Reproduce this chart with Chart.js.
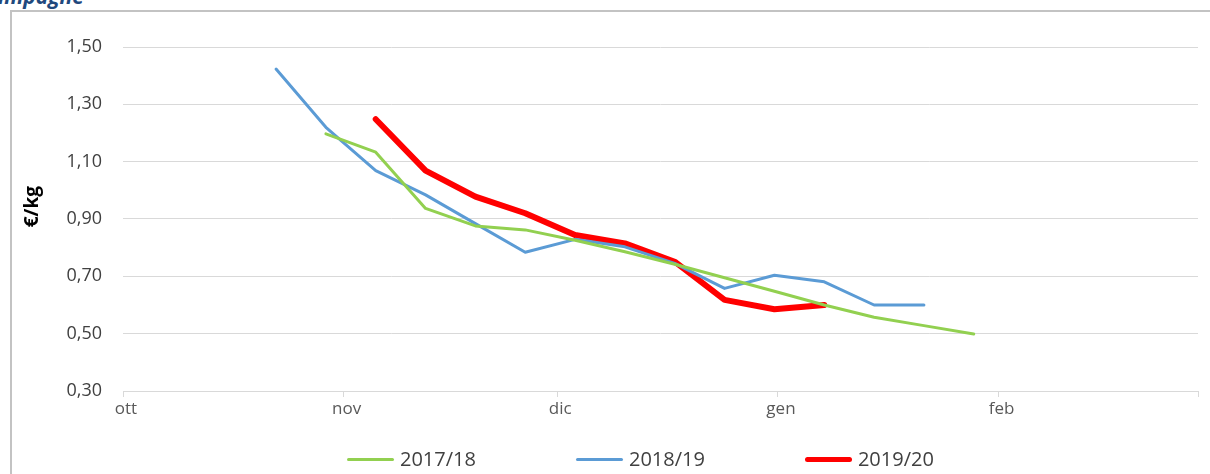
<!DOCTYPE html>
<html>
<head>
<meta charset="utf-8">
<script src="https://cdn.jsdelivr.net/npm/chart.js@4/dist/chart.umd.min.js"></script>
<style>
  html, body { margin: 0; padding: 0; background: #fff; overflow: hidden; }
  #wrap { position: relative; width: 1210px; height: 474px; }
  #heading {
    position: absolute; right: 1126px; top: -14px; white-space: nowrap;
    font: italic bold 21px 'Open Sans', sans-serif; line-height: 20px; color: #1f497d;
  }
  #frame {
    position: absolute; left: 10px; top: 10px; width: 1300px; height: 500px;
    border-top: 2px solid #c3c3c3; border-left: 2px solid #c3c3c3;
  }
  #chart { position: absolute; left: 0; top: 0; }
  #legend {
    position: absolute; left: 347px; top: 447px; display: flex; gap: 100px;
    font: 20px 'Open Sans', sans-serif; color: #404040; line-height: 24px;
  }
  #legend .item { display: flex; align-items: center; }
  #legend .swatch { width: 47px; margin-right: 6px; border-radius: 3px; }
</style>
</head>
<body>
<div id="wrap">
  <div id="heading">campagne</div>
  <div id="frame"></div>
  <canvas id="chart" width="1210" height="474"></canvas>
  <div id="legend"></div>
</div>
<script>
// days counted from 1 October; last entry is 1 March (end of the axis)
const monthLabels = ['ott', 'nov', 'dic', 'gen', 'feb'];
const monthStarts = [0, 31, 61, 92, 123, 151];
const yTicks = [0.3, 0.5, 0.7, 0.9, 1.1, 1.3, 1.5];

const seasons = ['2017/18', '2018/19', '2019/20'];
const seasonColors = ['#92d050', '#5b9bd5', '#ff0000'];

const days1718 = [28.5, 35.5, 42.5, 49.5, 56.5, 63.5, 70.5, 77.5, 84.5, 91.5, 98.5, 105.5, 112.5, 119.5];
const prices1718 = [1.197, 1.133, 0.937, 0.876, 0.862, 0.826, 0.786, 0.742, 0.695, 0.648, 0.600, 0.557, 0.528, 0.499];

const days1819 = [21.5, 28.5, 35.5, 42.5, 49.5, 56.5, 63.5, 70.5, 77.5, 84.5, 91.5, 98.5, 105.5, 112.5];
const prices1819 = [1.423, 1.220, 1.069, 0.984, 0.884, 0.784, 0.829, 0.803, 0.745, 0.658, 0.704, 0.681, 0.600, 0.600];

const days1920 = [35.5, 42.5, 49.5, 56.5, 63.5, 70.5, 77.5, 84.5, 91.5, 98.5];
const prices1920 = [1.248, 1.069, 0.978, 0.920, 0.844, 0.815, 0.751, 0.618, 0.585, 0.600];

const toPoints = (days, prices) => days.map((d, i) => ({ x: d, y: prices[i] }));

const series = [
    { data: toPoints(days1718, prices1718), width: 3 },
    { data: toPoints(days1819, prices1819), width: 3 },
    { data: toPoints(days1920, prices1920), width: 6 }
];

Chart.defaults.font.family = "'Open Sans', sans-serif";
Chart.defaults.color = '#595959';

const chart = new Chart(document.getElementById('chart'), {
    type: 'line',
    data: {
        datasets: series.map((s, i) => ({
            label: seasons[i],
            data: s.data,
            borderColor: seasonColors[i],
            backgroundColor: seasonColors[i],
            borderWidth: s.width,
            borderCapStyle: 'round',
            borderJoinStyle: 'round',
            pointRadius: 0,
            tension: 0,
            fill: false
        }))
    },
    options: {
        responsive: false,
        animation: false,
        events: [],
        layout: { padding: { left: 10, right: 12, top: 47, bottom: 0 } },
        scales: {
            x: {
                type: 'linear',
                min: 0,
                max: 151,
                afterBuildTicks: (scale) => {
                    scale.ticks = monthStarts.map(v => ({ value: v }));
                },
                afterFit: (scale) => { scale.height = 83; },
                grid: {
                    drawOnChartArea: false,
                    drawTicks: true,
                    tickLength: 6,
                    color: '#d9d9d9'
                },
                border: { display: true, color: '#d9d9d9' },
                ticks: {
                    autoSkip: false,
                    maxRotation: 0,
                    padding: 2,
                    labelOffset: 3,
                    font: { size: 17 },
                    callback: (v, i) => monthLabels[i] || ''
                }
            },
            y: {
                min: 0.3,
                max: 1.5,
                afterBuildTicks: (scale) => {
                    scale.ticks = yTicks.map(v => ({ value: v }));
                },
                afterFit: (scale) => { scale.width = 113; },
                grid: { color: '#d9d9d9', drawTicks: false },
                border: { display: false },
                ticks: {
                    padding: 21,
                    color: '#404040',
                    font: { size: 18 },
                    callback: (v) => v.toFixed(2).replace('.', ',')
                },
                title: {
                    display: true,
                    // leading spaces nudge the label a little above centre, as in the original
                    text: '\u00a0\u00a0\u00a0\u00a0\u00a0€/kg',
                    color: '#000',
                    font: { size: 19, weight: 'bold' },
                    padding: { top: 11, bottom: 0 }
                }
            }
        },
        plugins: {
            legend: { display: false },
            tooltip: { enabled: false }
        }
    }
});

// legend built from the chart's own datasets
const legendEl = document.getElementById('legend');
chart.data.datasets.forEach(ds => {
    const item = document.createElement('div');
    item.className = 'item';
    const sw = document.createElement('span');
    sw.className = 'swatch';
    sw.style.height = (ds.borderWidth === 6 ? 5 : 3) + 'px';
    sw.style.background = ds.borderColor;
    const txt = document.createElement('span');
    txt.textContent = ds.label;
    item.appendChild(sw);
    item.appendChild(txt);
    legendEl.appendChild(item);
});
</script>
</body>
</html>
